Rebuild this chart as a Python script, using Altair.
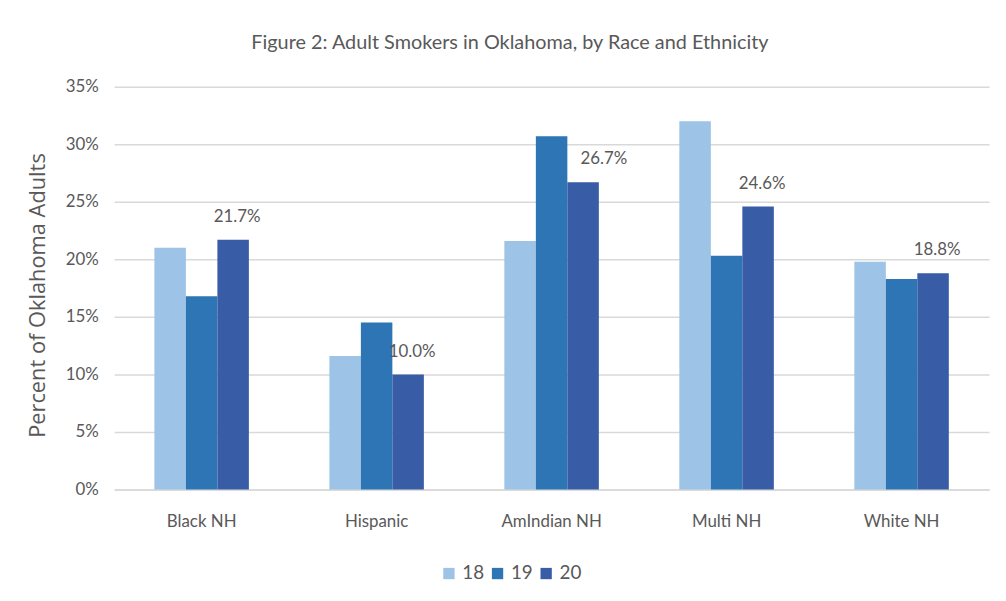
import altair as alt
import pandas as pd

groups = ["Black NH", "Hispanic", "AmIndian NH", "Multi NH", "White NH"]
years = ["18", "19", "20"]
v18 = [21.0, 11.6, 21.6, 32.0, 19.8]
v19 = [16.8, 14.5, 30.7, 20.3, 18.3]
v20 = [21.7, 10.0, 26.7, 24.6, 18.8]
colors = ["#9DC3E6", "#2E75B6", "#385DA6"]
shifted_label_groups = ["AmIndian NH"]

rows = []
for i, g in enumerate(groups):
    for y, vals in zip(years, [v18, v19, v20]):
        rows.append({"group": g, "year": y, "value": vals[i]})
df = pd.DataFrame(rows)

FONT = "Lato"
GREY = "#595959"

x_enc = alt.X("group:N", sort=groups, title=None,
              scale=alt.Scale(paddingInner=0.46, paddingOuter=0.23),
              axis=alt.Axis(labelAngle=0, labelFont=FONT, labelFontSize=17,
                            labelColor=GREY, labelPadding=24, ticks=False,
                            domainColor="#d9d9d9", domainWidth=1.5))
xo_enc = alt.XOffset("year:N", sort=years, scale=alt.Scale(paddingInner=0, paddingOuter=0))
y_enc = alt.Y("value:Q", scale=alt.Scale(domain=[0, 35]),
              title="Percent of Oklahoma Adults",
              axis=alt.Axis(values=[0, 5, 10, 15, 20, 25, 30, 35],
                            labelExpr="datum.value + '%'",
                            labelFont=FONT, labelFontSize=17, labelColor=GREY,
                            labelPadding=16, ticks=False, domain=False,
                            gridColor="#d9d9d9", gridWidth=1.5,
                            titleFont="Open Sans", titleFontSize=22,
                            titleFontWeight="normal", titleColor=GREY,
                            titleAngle=-90, titleX=-77, titleY=210,
                            titleAlign="center", titleBaseline="middle"))

bars = alt.Chart(df).mark_bar().encode(
    x=x_enc, xOffset=xo_enc, y=y_enc,
    color=alt.Color("year:N", sort=years, title=None,
                    scale=alt.Scale(domain=years, range=colors),
                    legend=alt.Legend(orient="none", legendX=328, legendY=481,
                                      direction="horizontal", symbolType="square",
                                      symbolSize=130, labelFont=FONT,
                                      labelFontSize=19, labelColor=GREY,
                                      columnPadding=3, labelOffset=4,
                                      symbolStrokeWidth=0)),
)

base_lab = alt.Chart(df).transform_filter(alt.datum.year == "20").transform_calculate(
    lab="format(datum.value, '.1f') + '%'"
)
lab_enc = dict(x=alt.X("group:N", sort=groups), xOffset=xo_enc,
               y=alt.Y("value:Q"), text="lab:N")

labels = base_lab.transform_filter(
    ~alt.FieldOneOfPredicate(field="group", oneOf=shifted_label_groups)
).mark_text(font=FONT, fontSize=17, color=GREY, dy=-23, dx=4).encode(**lab_enc)

labels_shift = base_lab.transform_filter(
    alt.FieldOneOfPredicate(field="group", oneOf=shifted_label_groups)
).mark_text(font=FONT, fontSize=17, color=GREY, dy=-23, dx=21).encode(**lab_enc)

chart = alt.layer(bars, labels, labels_shift).properties(
    width=882, height=406,
    title=alt.TitleParams("Figure 2: Adult Smokers in Oklahoma, by Race and Ethnicity",
                          font=FONT, fontSize=20, fontWeight="normal", color=GREY,
                          anchor="middle", dx=-42, offset=25),
    autosize=alt.AutoSizeParams(type="none"),
    padding={"left": 107, "top": 77, "right": 9, "bottom": 100},
).configure_view(stroke=None)

chart.save("out.html", embed_options={"renderer": "svg", "actions": False})
